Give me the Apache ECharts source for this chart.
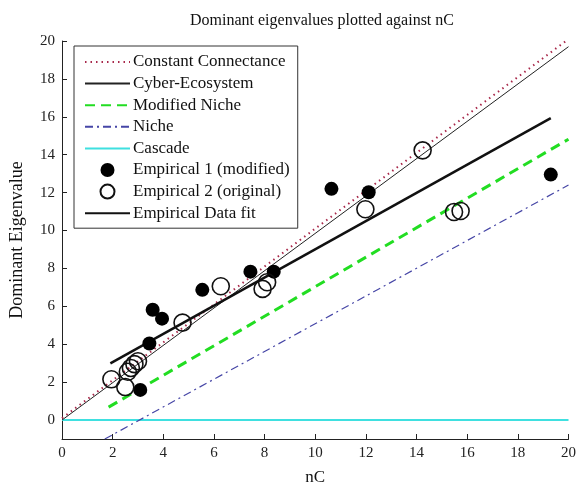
<!DOCTYPE html>
<html>
<head>
<meta charset="utf-8">
<script src="https://cdn.jsdelivr.net/npm/echarts@6/dist/echarts.min.js"></script>
<style>html,body{margin:0;padding:0;background:#fff}#c{width:579px;height:491px}</style>
</head>
<body>
<div id="c"></div>
<script>
// ---- data ----
const xTicks = [0, 2, 4, 6, 8, 10, 12, 14, 16, 18, 20];
const yTicks = [0, 2, 4, 6, 8, 10, 12, 14, 16, 18, 20];

const constX = [0, 20];       const constY = [0.1, 20.1];
const cyberX = [0, 20];       const cyberY = [0, 19.7];
const modNicheX = [1.84, 20]; const modNicheY = [0.68, 14.82];
const nicheX = [1.69, 20];    const nicheY = [-1, 12.4];
const cascadeX = [0, 20];     const cascadeY = [0, 0];
const fitX = [1.91, 19.3];    const fitY = [2.99, 15.93];

const emp1X = [3.09, 3.45, 3.58, 3.95, 5.54, 7.44, 8.36, 10.64, 12.11, 19.3];
const emp1Y = [1.59, 4.04, 5.82, 5.35, 6.87, 7.83, 7.83, 12.2, 12.02, 12.95];

const emp2X = [1.95, 2.5, 2.6, 2.72, 2.86, 3.0, 4.76, 6.27, 7.92, 8.1, 11.98, 14.24, 15.48, 15.74];
const emp2Y = [2.15, 1.74, 2.55, 2.75, 2.95, 3.1, 5.14, 7.06, 6.92, 7.27, 11.12, 14.23, 10.98, 11.03];

const lineNames = ['Constant Connectance', 'Cyber-Ecosystem', 'Modified Niche', 'Niche', 'Cascade'];
const pointNames = ['Empirical 1 (modified)', 'Empirical 2 (original)'];
const fitName = 'Empirical Data fit';

const zip = (xs, ys) => xs.map((x, i) => [x, ys[i]]);
const FONT = '"Liberation Serif", "DejaVu Serif", serif';
const noSym = n => ({name: n, itemStyle: {opacity: 0}});

const chart = echarts.init(document.getElementById('c'), null, {renderer: 'canvas'});
chart.setOption({
  animation: false,
  backgroundColor: '#fff',
  title: {
    text: 'Dominant eigenvalues plotted against nC',
    left: 317, top: 8, textAlign: 'center',
    textStyle: {fontFamily: FONT, fontSize: 16, fontWeight: 'normal', color: '#111'}
  },
  grid: {left: 62, right: 7, top: 41, bottom: 49, containLabel: false},
  legend: {
    orient: 'vertical', left: 74, top: 46,
    padding: [7, 8, 6, 10],
    borderColor: '#333', borderWidth: 1, backgroundColor: '#fff',
    itemWidth: 45, itemHeight: 14, itemGap: 3.6,
    textStyle: {fontFamily: FONT, fontSize: 17, color: '#111', lineHeight: 18, padding: [0, 0, 0, -2]},
    data: lineNames.map(noSym).concat(pointNames.map(n => ({name: n})), [noSym(fitName)])
  },
  xAxis: {
    type: 'value', min: 0, max: 20, interval: 2,
    name: 'nC', nameLocation: 'middle', nameGap: 30,
    nameTextStyle: {fontFamily: FONT, fontSize: 17, color: '#111'},
    axisLine: {onZero: false, lineStyle: {color: '#222', width: 1}},
    axisTick: {inside: true, length: 5, lineStyle: {color: '#222'}},
    axisLabel: {fontFamily: FONT, fontSize: 15, color: '#222', margin: 7},
    splitLine: {show: false}
  },
  yAxis: {
    type: 'value', min: -1, max: 20,
    name: 'Dominant Eigenvalue', nameLocation: 'middle', nameGap: 36,
    nameTextStyle: {fontFamily: FONT, fontSize: 18, color: '#111'},
    axisLine: {onZero: false, lineStyle: {color: '#222', width: 1}},
    axisTick: {inside: true, length: 5, customValues: yTicks, lineStyle: {color: '#222'}},
    axisLabel: {fontFamily: FONT, fontSize: 15, color: '#222', margin: 7, customValues: yTicks},
    splitLine: {show: false}
  },
  series: [
    {name: 'Cascade', type: 'line', data: zip(cascadeX, cascadeY), symbol: 'none',
     lineStyle: {color: '#3fe0e0', width: 2}, itemStyle: {color: '#3fe0e0'}, z: 2},
    {name: 'Constant Connectance', type: 'line', data: zip(constX, constY), symbol: 'none',
     lineStyle: {color: '#a8284a', width: 2, type: [1.5, 4]}, itemStyle: {color: '#a8284a'}, z: 3},
    {name: 'Cyber-Ecosystem', type: 'line', data: zip(cyberX, cyberY), symbol: 'none',
     lineStyle: {color: '#222', width: 1}, itemStyle: {color: '#222'}, z: 3},
    {name: 'Modified Niche', type: 'line', data: zip(modNicheX, modNicheY), symbol: 'none',
     lineStyle: {color: '#22dd22', width: 3, type: [10, 6]}, itemStyle: {color: '#22dd22'}, z: 3},
    {name: 'Niche', type: 'line', data: zip(nicheX, nicheY), symbol: 'none',
     lineStyle: {color: '#4646a6', width: 1.2, type: [8, 4, 2, 4]}, itemStyle: {color: '#4646a6'}, z: 3},
    {name: fitName, type: 'line', data: zip(fitX, fitY), symbol: 'none',
     lineStyle: {color: '#111', width: 2.5}, itemStyle: {color: '#111'}, z: 4},
    {name: pointNames[0], type: 'scatter', data: zip(emp1X, emp1Y),
     symbol: 'circle', symbolSize: 14, itemStyle: {color: '#000', opacity: 1}, z: 5},
    {name: pointNames[1], type: 'scatter', data: zip(emp2X, emp2Y),
     symbol: 'circle', symbolSize: 17,
     itemStyle: {color: 'rgba(255,255,255,0)', borderColor: '#111', borderWidth: 1.6, opacity: 1}, z: 5}
  ]
});
</script>
</body>
</html>
